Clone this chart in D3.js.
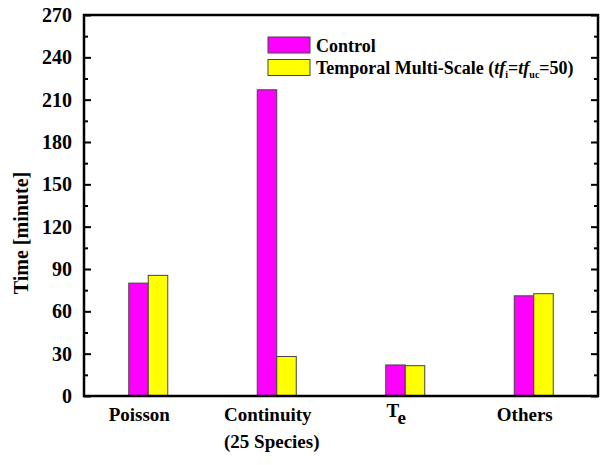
<!DOCTYPE html>
<html>
<head>
<meta charset="utf-8">
<script src="https://cdn.jsdelivr.net/npm/d3@7"></script>
<style>
  body { margin: 0; background: #fff; }
  svg text { font-family: "Times New Roman", "Liberation Serif", Times, "DejaVu Serif", serif !important; font-weight: bold; }
</style>
</head>
<body>
<svg id="chart" width="601" height="465"></svg>
<script>
// data
var categories = ["Poisson", "Continuity", "Te", "Others"];
var control = [80, 217, 22, 71];
var multiScale = [85.5, 28, 21.5, 72.5];
var yTicks = [0, 30, 60, 90, 120, 150, 180, 210, 240, 270];

var margin = {left: 84, right: 3, top: 15, bottom: 69};
var width = 601 - margin.left - margin.right;
var height = 465 - margin.top - margin.bottom;

var svg = d3.select("#chart");
var chart = svg.append("g")
    .attr("transform", "translate(" + margin.left + "," + margin.top + ")");

var x = d3.scaleBand()
    .domain(categories)
    .range([0, width]);

var y = d3.scaleLinear()
    .domain([0, 270])
    .range([height, 0]);

var barW = 19.5;
var series = [
    {name: "control", values: control, color: "#ff00ff", off: -barW},
    {name: "multi", values: multiScale, color: "#ffff00", off: 0}
];

series.forEach(function(s) {
    chart.selectAll("rect." + s.name)
        .data(categories)
        .enter().append("rect")
        .attr("class", s.name)
        .attr("x", (d) => x(d) + x.bandwidth() / 2 + s.off)
        .attr("y", (d, i) => y(s.values[i]))
        .attr("width", barW)
        .attr("height", (d, i) => height - y(s.values[i]))
        .attr("fill", s.color)
        .attr("stroke", "#444")
        .attr("stroke-width", 1);
});

// left axis, major ticks inward with labels
var minorTicks = d3.range(15, 270, 30);
chart.append("g")
    .call(d3.axisLeft(y).tickValues(yTicks).tickSizeInner(-7).tickSizeOuter(0).tickPadding(12))
    .call((g) => g.select(".domain").remove())
    .call((g) => g.selectAll("line").attr("stroke", "#000").attr("stroke-width", 2))
    .call((g) => g.selectAll("text").attr("font-size", 20).attr("fill", "#000"));
chart.append("g")
    .call(d3.axisLeft(y).tickValues(minorTicks).tickSize(-4).tickFormat(""))
    .call((g) => g.select(".domain").remove())
    .call((g) => g.selectAll("line").attr("stroke", "#000").attr("stroke-width", 2));

// right axis mirror
chart.append("g")
    .attr("transform", "translate(" + width + ",0)")
    .call(d3.axisRight(y).tickValues(yTicks).tickSize(-7).tickFormat(""))
    .call((g) => g.select(".domain").remove())
    .call((g) => g.selectAll("line").attr("stroke", "#000").attr("stroke-width", 2));
chart.append("g")
    .attr("transform", "translate(" + width + ",0)")
    .call(d3.axisRight(y).tickValues(minorTicks).tickSize(-4).tickFormat(""))
    .call((g) => g.select(".domain").remove())
    .call((g) => g.selectAll("line").attr("stroke", "#000").attr("stroke-width", 2));

// frame
chart.append("rect")
    .attr("width", width)
    .attr("height", height)
    .attr("fill", "none")
    .attr("stroke", "#000")
    .attr("stroke-width", 2.5);

// category labels (sit a little left of the bar pairs in the original)
var labelShift = -9;
var xl = chart.append("g").attr("transform", "translate(0," + height + ")");
categories.forEach(function(c) {
    var cx = x(c) + x.bandwidth() / 2 + labelShift;
    var t = xl.append("text")
        .attr("x", cx)
        .attr("y", 25)
        .attr("text-anchor", "middle")
        .attr("font-size", 19);
    if (c == "Te") {
        t.attr("y", 21);
        t.append("tspan").text("T");
        t.append("tspan").attr("dy", 7).text("e");
    } else if (c == "Continuity") {
        t.append("tspan").text("Continuity");
        t.append("tspan").attr("x", cx + 4).attr("dy", 27).text("(25 Species)");
    } else {
        t.text(c);
    }
});

// y title
svg.append("text")
    .attr("transform", "translate(28,233) rotate(-90)")
    .attr("text-anchor", "middle")
    .attr("font-size", 20)
    .text("Time [minute]");

// legend
var legend = svg.append("g").attr("transform", "translate(268,37)");
legend.append("rect").attr("width", 42).attr("height", 16)
    .attr("fill", "#ff00ff").attr("stroke", "#444");
legend.append("rect").attr("y", 22.5).attr("width", 42).attr("height", 16)
    .attr("fill", "#ffff00").attr("stroke", "#444");
legend.append("text").attr("x", 48).attr("y", 14.5).attr("font-size", 18).text("Control");
var lt = legend.append("text").attr("x", 48).attr("y", 37).attr("font-size", 18);
lt.append("tspan").text("Temporal Multi-Scale (");
lt.append("tspan").attr("font-style", "italic").text("tf");
lt.append("tspan").attr("font-size", 10).attr("dy", 4).text("i");
lt.append("tspan").attr("dy", -4).text("=");
lt.append("tspan").attr("font-style", "italic").text("tf");
lt.append("tspan").attr("font-size", 10).attr("dy", 4).text("uc");
lt.append("tspan").attr("dy", -4).text("=50)");
</script>
</body>
</html>
